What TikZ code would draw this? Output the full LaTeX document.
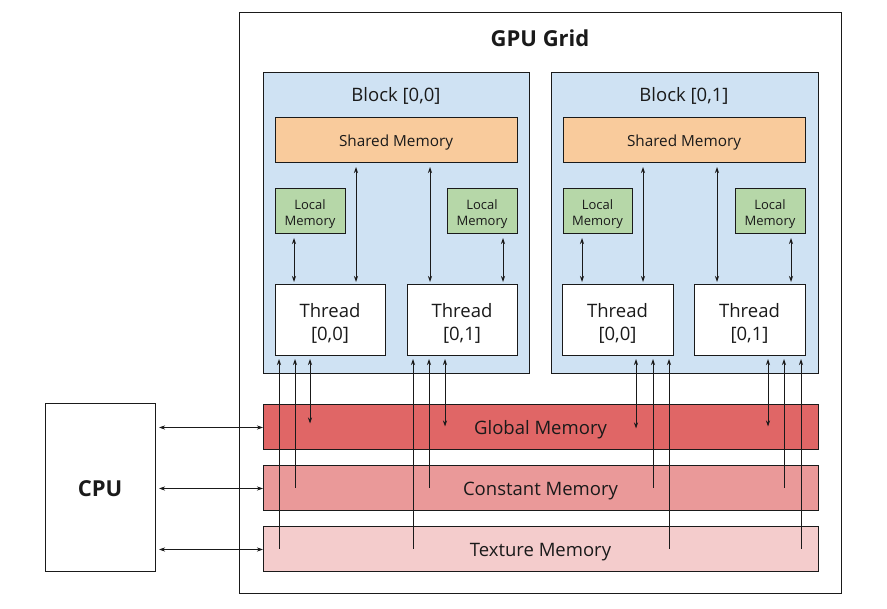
\documentclass[tikz,border=0pt]{standalone}
\usepackage{fontspec}
\setmainfont{Open Sans}
\usetikzlibrary{arrows.meta,calc}
\definecolor{strk}{HTML}{1A1A1A}
\definecolor{blockc}{HTML}{CFE2F3}
\definecolor{sharedc}{HTML}{F9CB9C}
\definecolor{localc}{HTML}{B6D7A8}
\definecolor{globalc}{HTML}{E06666}
\definecolor{constc}{HTML}{EA9999}
\definecolor{texc}{HTML}{F4CCCC}
\begin{document}
\begin{tikzpicture}[x=1pt,y=-1pt,
  box/.style={draw=strk, line width=1pt, anchor=north west, inner sep=0pt, outer sep=0pt},
  txt/.style={inner sep=0pt, text=strk, align=center},
  bigf/.style={font=\fontsize{18.5}{23}\selectfont},
  shf/.style={font=\fontsize{15.3}{18}\selectfont},
  locf/.style={font=\fontsize{13}{16}\selectfont},
  titf/.style={font=\fontsize{22}{26}\selectfont\bfseries},
  in/.style={},
  dbl/.style={{Stealth[length=6pt,width=4pt]}-{Stealth[length=6pt,width=4pt]}, line width=0.8pt, draw=strk},
  upa/.style={{Stealth[length=6pt,width=4pt]}-, line width=0.8pt, draw=strk},
]
\useasboundingbox (0,0) rectangle (887,609);
\fill[white] (0,0) rectangle (887,609);

% GPU grid
\node[box, fill=white, minimum width=602pt, minimum height=580pt] (grid) at (239,13) {};
\node[txt, titf] (gridt) at (540,38) {GPU Grid};

% blocks
\node[box, fill=blockc, minimum width=266pt, minimum height=301pt] (b0) at (263,73) {};
\node[box, fill=blockc, minimum width=267pt, minimum height=301pt] (b1) at (551,73) {};
\node[txt, bigf] (b0t) at (396,96) {Block [0,0]};
\node[txt, bigf] (b1t) at (684,96) {Block [0,1]};

% shared memory
\node[box, fill=sharedc, minimum width=242pt, minimum height=45pt,
  label={[txt, shf, yshift=-2.5pt]center:Shared Memory}] (s0) at (275,118) {};
\node[box, fill=sharedc, minimum width=242pt, minimum height=45pt,
  label={[txt, shf, yshift=-2.5pt]center:Shared Memory}] (s1) at (563,118) {};

% local memory
\node[box, fill=localc, minimum width=70pt, minimum height=45pt,
  label={[txt, locf, yshift=-2.5pt]center:Local\\Memory}] (l00) at (275,189) {};
\node[box, fill=localc, minimum width=70pt, minimum height=45pt,
  label={[txt, locf, yshift=-2.5pt]center:Local\\Memory}] (l01) at (447,189) {};
\node[box, fill=localc, minimum width=69pt, minimum height=45pt,
  label={[txt, locf, yshift=-2.5pt]center:Local\\Memory}] (l10) at (563,189) {};
\node[box, fill=localc, minimum width=70pt, minimum height=45pt,
  label={[txt, locf, yshift=-2.5pt]center:Local\\Memory}] (l11) at (735,189) {};

% threads
\node[box, fill=white, minimum width=110pt, minimum height=71pt,
  label={[txt, bigf, yshift=-2.5pt]center:Thread\\{}[0,0]}] (t00) at (275,285) {};
\node[box, fill=white, minimum width=110pt, minimum height=71pt,
  label={[txt, bigf, yshift=-2.5pt]center:Thread\\{}[0,1]}] (t01) at (407,285) {};
\node[box, fill=white, minimum width=111pt, minimum height=71pt,
  label={[txt, bigf, yshift=-2.5pt]center:Thread\\{}[0,0]}] (t10) at (562,285) {};
\node[box, fill=white, minimum width=111pt, minimum height=71pt,
  label={[txt, bigf, yshift=-2.5pt]center:Thread\\{}[0,1]}] (t11) at (694,285) {};

% memories
\node[box, fill=globalc, minimum width=555pt, minimum height=45pt,
  label={[txt, bigf, yshift=-2.5pt]center:Global Memory}] (glob) at (263,405) {};
\node[box, fill=constc, minimum width=555pt, minimum height=45pt,
  label={[txt, bigf, yshift=-2.5pt]center:Constant Memory}] (con) at (263,466) {};
\node[box, fill=texc, minimum width=555pt, minimum height=45pt,
  label={[txt, bigf, yshift=-2.5pt]center:Texture Memory}] (tex) at (263,527) {};

% CPU
\node[box, fill=white, minimum width=110pt, minimum height=168pt,
  label={[txt, titf, yshift=-1pt]center:CPU}] (cpu) at (45,404) {};

% x positions
\coordinate (ka) at (294,0);
\coordinate (kb) at (356,0);
\coordinate (kc) at (430,0);
\coordinate (kd) at (503,0);
\coordinate (ke) at (582,0);
\coordinate (kf) at (643,0);
\coordinate (kg) at (717,0);
\coordinate (kh) at (791,0);

% block internal arrows
\draw[dbl, shorten <=4pt, shorten >=3pt] (ka |- l00.south) -- (ka |- t00.north);
\draw[dbl, shorten <=4pt, shorten >=3pt] (kb |- s0.south) -- (kb |- t00.north);
\draw[dbl, shorten <=4pt, shorten >=3pt] (kc |- s0.south) -- (kc |- t01.north);
\draw[dbl, shorten <=4pt, shorten >=3pt] (kd |- l01.south) -- (kd |- t01.north);
\draw[dbl, shorten <=4pt, shorten >=3pt] (ke |- l10.south) -- (ke |- t10.north);
\draw[dbl, shorten <=4pt, shorten >=3pt] (kf |- s1.south) -- (kf |- t10.north);
\draw[dbl, shorten <=4pt, shorten >=3pt] (kg |- s1.south) -- (kg |- t11.north);
\draw[dbl, shorten <=4pt, shorten >=3pt] (kh |- l11.south) -- (kh |- t11.north);

% thread-to-memory x positions
\coordinate (m1) at (279,0);
\coordinate (m2) at (295,0);
\coordinate (m3) at (310,0);
\coordinate (m4) at (413,0);
\coordinate (m5) at (429,0);
\coordinate (m6) at (445,0);
\coordinate (m7) at (636,0);
\coordinate (m8) at (653,0);
\coordinate (m9) at (669,0);
\coordinate (m10) at (768,0);
\coordinate (m11) at (784,0);
\coordinate (m12) at (801,0);

\draw[upa, shorten <=3pt] (m1 |- t00.south) -- (m1 |- tex.center);
\draw[upa, shorten <=3pt] (m2 |- t00.south) -- (m2 |- con.center);
\draw[dbl, shorten <=3pt, shorten >=4pt] (m3 |- t00.south) -- (m3 |- glob.center);
\draw[upa, shorten <=3pt] (m4 |- t01.south) -- (m4 |- tex.center);
\draw[upa, shorten <=3pt] (m5 |- t01.south) -- (m5 |- con.center);
\draw[dbl, shorten <=3pt, shorten >=1pt] (m6 |- t01.south) -- (m6 |- glob.center);
\draw[dbl, shorten <=3pt, shorten >=-1pt] (m7 |- t10.south) -- (m7 |- glob.center);
\draw[upa, shorten <=3pt] (m8 |- t10.south) -- (m8 |- con.center);
\draw[upa, shorten <=3pt] (m9 |- t10.south) -- (m9 |- tex.center);
\draw[dbl, shorten <=3pt, shorten >=1pt] (m10 |- t11.south) -- (m10 |- glob.center);
\draw[upa, shorten <=3pt] (m11 |- t11.south) -- (m11 |- con.center);
\draw[upa, shorten <=3pt] (m12 |- t11.south) -- (m12 |- tex.center);

% CPU arrows
\draw[dbl, shorten <=4pt] (cpu.east |- glob.west) -- (glob.west);
\draw[dbl, shorten <=4pt] (cpu.east |- con.west) -- (con.west);
\draw[dbl, shorten <=4pt] (cpu.east |- tex.west) -- (tex.west);
\end{tikzpicture}
\end{document}
